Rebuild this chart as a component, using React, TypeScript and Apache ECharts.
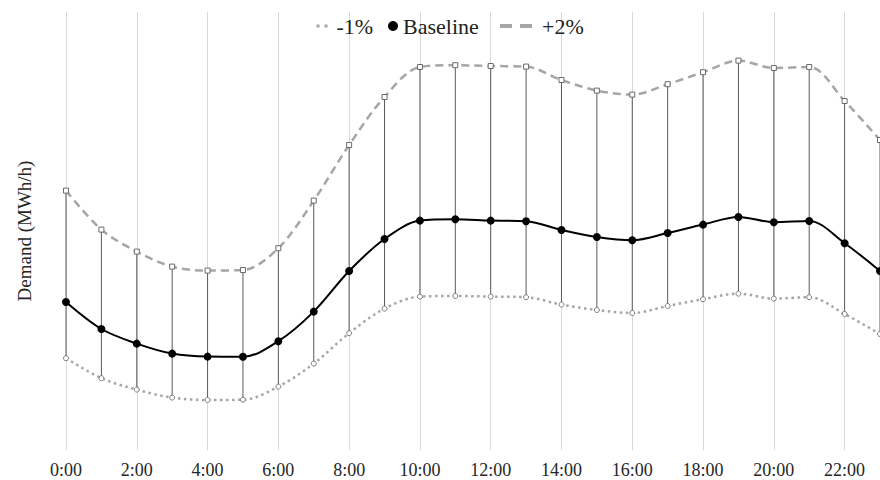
import React, { useEffect, useRef } from "react";
import * as echarts from "echarts";

const hours = [
  "0:00", "1:00", "2:00", "3:00", "4:00", "5:00", "6:00", "7:00",
  "8:00", "9:00", "10:00", "11:00", "12:00", "13:00", "14:00", "15:00",
  "16:00", "17:00", "18:00", "19:00", "20:00", "21:00", "22:00", "23:00",
];

const baseline = [
  27400, 26050, 25320, 24820, 24670, 24660, 25440, 26920, 28950, 30550, 31470, 31540,
  31470, 31440, 31000, 30650, 30490, 30850, 31270, 31650, 31390, 31450, 30340, 28950,
];

const plus2 = [
  32970, 31020, 29920, 29170, 28970, 29000, 30090, 32470, 35250, 37650, 39150, 39240,
  39200, 39170, 38500, 37970, 37770, 38290, 38890, 39470, 39100, 39150, 37450, 35500,
];

const minus1 = [
  24590, 23590, 23020, 22620, 22500, 22510, 23170, 24320, 25840, 27070, 27670, 27700,
  27670, 27640, 27270, 27000, 26850, 27200, 27540, 27820, 27570, 27640, 26800, 25800,
];

const FONT = "'Liberation Serif', 'Times New Roman', serif";

export default function App() {
  const ref = useRef<HTMLDivElement>(null);

  useEffect(() => {
    if (!ref.current) return;
    const chart = echarts.init(ref.current, null, { renderer: "svg" });
    const ranges = hours.map((_, i) => [i, minus1[i], plus2[i]]);

    const legendText = { fontFamily: FONT, fontSize: 22, color: "#222" };

    chart.setOption({
      animation: false,
      grid: { left: 66, right: -1.4, top: 12, bottom: 30 },
      legend: [
        {
          left: 315,
          top: 15,
          padding: 0,
          itemWidth: 15,
          itemHeight: 10,
          textStyle: legendText,
          selectedMode: false,
          data: [
            {
              name: "-1%",
              itemStyle: { opacity: 0 },
              lineStyle: { width: 3, type: [3, 5], color: "#a6a6a6" },
            },
          ],
        },
        {
          left: 388,
          top: 15,
          padding: 0,
          itemWidth: 10,
          itemHeight: 10,
          textStyle: legendText,
          selectedMode: false,
          data: [{ name: "Baseline", icon: "circle" }],
        },
        {
          left: 498,
          top: 15,
          padding: 0,
          itemWidth: 37,
          itemHeight: 10,
          textStyle: legendText,
          selectedMode: false,
          data: [
            {
              name: "+2%",
              itemStyle: { opacity: 0 },
              lineStyle: { width: 4, type: [12, 8], color: "#a6a6a6" },
            },
          ],
        },
      ],
      xAxis: {
        type: "category",
        data: hours,
        boundaryGap: false,
        axisLine: { show: false },
        axisTick: { show: false, interval: 1 },
        axisLabel: {
          interval: 1,
          fontFamily: FONT,
          fontSize: 18,
          color: "#262626",
          margin: 11,
        },
        splitLine: {
          show: true,
          interval: 1,
          lineStyle: { color: "#d9d9d9", width: 1 },
        },
      },
      yAxis: {
        type: "value",
        min: 20000,
        max: 41900,
        name: "Demand (MWh/h)",
        nameLocation: "middle",
        nameGap: 32,
        nameTextStyle: { fontFamily: FONT, fontSize: 19, color: "#262626" },
        axisLine: { show: false },
        axisTick: { show: false },
        axisLabel: { show: false },
        splitLine: { show: false },
      },
      series: [
        {
          name: "range",
          type: "custom",
          z: 1,
          silent: true,
          data: ranges,
          encode: { x: 0, y: [1, 2] },
          renderItem: (params: any, api: any) => {
            const lo = api.coord([api.value(0), api.value(1)]);
            const hi = api.coord([api.value(0), api.value(2)]);
            return {
              type: "line",
              shape: { x1: lo[0], y1: lo[1], x2: hi[0], y2: hi[1] },
              style: { stroke: "#5a5a5a", lineWidth: 1 },
            };
          },
        },
        {
          name: "-1%",
          type: "line",
          z: 2,
          data: minus1,
          smooth: 0.33,
          symbol: "circle",
          symbolSize: 5,
          itemStyle: { color: "#ffffff", borderColor: "#7a7a7a", borderWidth: 1 },
          lineStyle: { color: "#a6a6a6", width: 2.5, type: [2.5, 3.5] },
          emphasis: { disabled: true },
        },
        {
          name: "+2%",
          type: "line",
          z: 2,
          data: plus2,
          smooth: 0.33,
          symbol: "rect",
          symbolSize: 5,
          itemStyle: { color: "#ffffff", borderColor: "#6a6a6a", borderWidth: 1 },
          lineStyle: { color: "#a6a6a6", width: 2.5, type: [8, 5] },
          emphasis: { disabled: true },
        },
        {
          name: "Baseline",
          type: "line",
          z: 3,
          data: baseline,
          smooth: 0.33,
          symbol: "circle",
          symbolSize: 8,
          itemStyle: { color: "#000000" },
          lineStyle: { color: "#000000", width: 2 },
          emphasis: { disabled: true },
        },
      ],
    });

    return () => chart.dispose();
  }, []);

  return (
    <div
      ref={ref}
      style={{ position: "absolute", left: 0, top: 0, width: 880, height: 480 }}
    />
  );
}
